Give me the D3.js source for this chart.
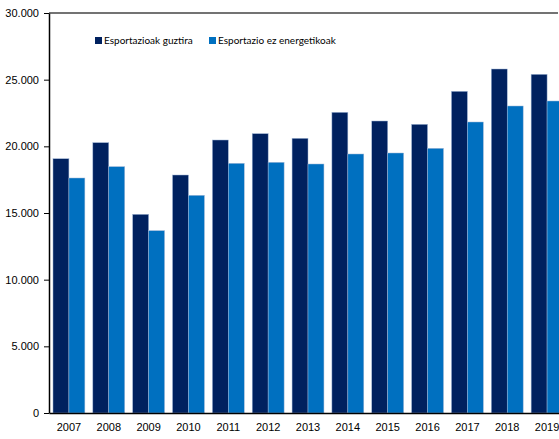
<!DOCTYPE html>
<html>
<head>
<meta charset="utf-8">
<script src="https://cdn.jsdelivr.net/npm/d3@7"></script>
<style>
  body { margin: 0; background: #fff; }
  svg { display: block; font-family: Lato, "Open Sans", "Liberation Sans", sans-serif; }
</style>
</head>
<body>
<div id="chart"></div>
<script>
// Datuak
const urteak = ['2007','2008','2009','2010','2011','2012','2013','2014','2015','2016','2017','2018','2019'];
const guztira = [19070, 20275, 14900, 17850, 20475, 20950, 20600, 22550, 21900, 21650, 24125, 25800, 25400];
const ezEnergetikoak = [17625, 18475, 13675, 16325, 18725, 18800, 18675, 19425, 19500, 19850, 21825, 23025, 23400];
const serieIzenak = ['Esportazioak guztira', 'Esportazio ez energetikoak'];
const koloreak = ['#00215f', '#0070c0'];
const yTicks = [0, 5000, 10000, 15000, 20000, 25000, 30000];

const width = 559, height = 439;
const margin = {top: 13, right: -8, bottom: 26, left: 49};
const innerW = width - margin.left - margin.right;
const innerH = height - margin.top - margin.bottom;

const svg = d3.select('#chart').append('svg')
    .attr('width', width)
    .attr('height', height);

const g = svg.append('g')
    .attr('transform', `translate(${margin.left},${margin.top})`);

const x = d3.scaleBand()
    .domain(urteak)
    .range([0, innerW])
    .paddingInner(0.2)
    .paddingOuter(0.1);

const x1 = d3.scaleBand()
    .domain([0, 1])
    .range([0, x.bandwidth()]);

const y = d3.scaleLinear()
    .domain([0, 30000])
    .range([innerH, 0]);

const fmt = d => d === 0 ? '0' : d3.format(',')(d).replace(/,/g, '.');

// Goiko marra
g.append('line')
    .attr('x1', 0).attr('x2', width - margin.left - 1)
    .attr('y1', y(30000)).attr('y2', y(30000))
    .attr('stroke', '#444').attr('stroke-width', 1.5);

// Barrak
const series = [guztira, ezEnergetikoak];
series.forEach((vals, si) => {
    g.selectAll('.bar' + si)
        .data(vals)
        .enter()
        .append('rect')
        .attr('class', 'bar' + si)
        .attr('x', (d, i) => x(urteak[i]) + x1(si))
        .attr('width', x1.bandwidth())
        .attr('y', d => y(d))
        .attr('height', d => y(0) - y(d))
        .attr('fill', koloreak[si])
        .attr('stroke', '#9fb6d6')
        .attr('stroke-width', 0.5);
});

// Y ardatza
const yAxis = g.append('g')
    .call(d3.axisLeft(y).tickValues(yTicks).tickFormat(fmt).tickSize(5).tickSizeOuter(0));
yAxis.select('.domain').attr('stroke', '#000').attr('stroke-width', 1.5);
yAxis.selectAll('.tick line').attr('stroke', '#000');
yAxis.selectAll('text').attr('font-size', '11px').attr('fill', '#000').attr('x', -10);

// X ardatza
const xAxis = g.append('g')
    .attr('transform', `translate(0,${innerH})`)
    .call(d3.axisBottom(x).tickSize(0));
xAxis.select('.domain').attr('stroke', '#000').attr('stroke-width', 1.5);
xAxis.selectAll('text').attr('font-size', '11px').attr('fill', '#000').attr('dy', '1.1em').attr('y', 6);

// Legenda
const legend = svg.append('g').attr('transform', 'translate(95,37)');
const legX = [0, 114];
serieIzenak.forEach((name, i) => {
    legend.append('rect')
        .attr('x', legX[i]).attr('y', 0)
        .attr('width', 7).attr('height', 7)
        .attr('fill', koloreak[i]);
    legend.append('text')
        .attr('x', legX[i] + 9).attr('y', 7)
        .attr('font-size', '10px')
        .attr('fill', '#000')
        .text(name);
});
</script>
</body>
</html>
